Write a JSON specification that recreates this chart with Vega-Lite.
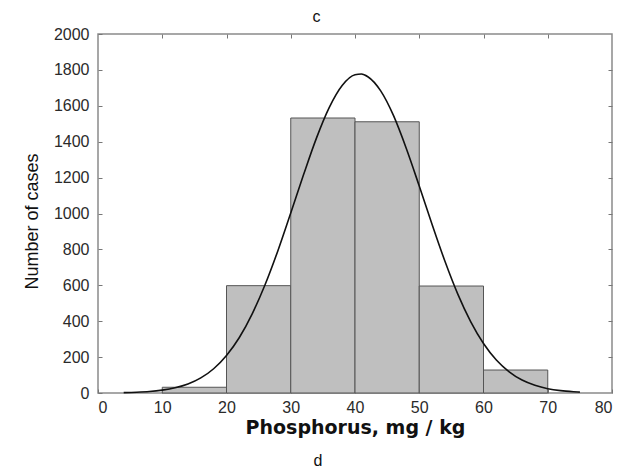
{
  "$schema": "https://vega.github.io/schema/vega-lite/v6.json",
  "width": 514,
  "height": 359,
  "autosize": {"type": "none"},
  "padding": {"left": 98, "top": 34, "right": 17, "bottom": 79},
  "background": "white",
  "title": {"text": "d", "orient": "bottom", "anchor": "middle", "frame": "bounds", "font": "Liberation Sans", "fontSize": 16, "fontWeight": "normal", "color": "#111", "offset": 16},
  "config": {
    "view": {"stroke": "#8a8a8a", "strokeWidth": 1.5},
    "axis": {"grid": false, "domain": false, "tickColor": "#777", "tickSize": -4, "labelFont": "Liberation Sans", "labelFontSize": 16, "labelColor": "#2a2a2a", "titleColor": "#111"}
  },
  "datasets": {
    "bars": [
      {"lo": 10, "hi": 20, "count": 32},
      {"lo": 20, "hi": 30, "count": 598},
      {"lo": 30, "hi": 40, "count": 1532},
      {"lo": 40, "hi": 50, "count": 1511},
      {"lo": 50, "hi": 60, "count": 596},
      {"lo": 60, "hi": 70, "count": 128}
    ],
    "curve": [
      {"p": 4, "n": 2}, {"p": 6, "n": 4}, {"p": 8, "n": 8}, {"p": 10, "n": 16}, {"p": 12, "n": 29},
      {"p": 14, "n": 50}, {"p": 16, "n": 84}, {"p": 18, "n": 135}, {"p": 20, "n": 209}, {"p": 22, "n": 309},
      {"p": 24, "n": 441}, {"p": 26, "n": 603}, {"p": 28, "n": 793}, {"p": 30, "n": 1003}, {"p": 32, "n": 1217},
      {"p": 34, "n": 1420}, {"p": 36, "n": 1591}, {"p": 38, "n": 1713}, {"p": 40, "n": 1773}, {"p": 41, "n": 1777},
      {"p": 42, "n": 1762}, {"p": 44, "n": 1683}, {"p": 46, "n": 1545}, {"p": 48, "n": 1361}, {"p": 50, "n": 1153},
      {"p": 52, "n": 939}, {"p": 54, "n": 734}, {"p": 56, "n": 551}, {"p": 58, "n": 398}, {"p": 60, "n": 276},
      {"p": 62, "n": 184}, {"p": 64, "n": 118}, {"p": 66, "n": 72}, {"p": 68, "n": 43}, {"p": 70, "n": 24},
      {"p": 72, "n": 13}, {"p": 74, "n": 7}, {"p": 75, "n": 5}
    ]
  },
  "layer": [
    {
      "data": {"name": "bars"},
      "mark": {"type": "bar", "fill": "#bfbfbf", "stroke": "#555", "strokeWidth": 1},
      "encoding": {
        "x": {"field": "lo", "type": "quantitative", "scale": {"domain": [0, 80], "nice": false},
          "axis": {"orient": "bottom", "values": [0, 10, 20, 30, 40, 50, 60, 70, 80], "format": "d", "labelPadding": 10, "title": "Phosphorus, mg / kg", "titleFont": "DejaVu Sans", "titleFontSize": 19, "titleFontWeight": "bold", "titlePadding": 3}},
        "x2": {"field": "hi"},
        "y": {"field": "count", "type": "quantitative", "scale": {"domain": [0, 2000], "nice": false},
          "axis": {"orient": "left", "values": [0, 200, 400, 600, 800, 1000, 1200, 1400, 1600, 1800, 2000], "format": "d", "labelPadding": 13, "title": "Number of cases", "titleFont": "Liberation Sans", "titleFontSize": 18, "titleFontWeight": "normal", "titlePadding": 12, "titleY": 187}},
        "y2": {"datum": 0}
      }
    },
    {
      "data": {"name": "curve"},
      "mark": {"type": "line", "color": "#111", "strokeWidth": 1.6, "interpolate": "monotone"},
      "encoding": {
        "x": {"field": "p", "type": "quantitative",
          "axis": {"orient": "top", "values": [10, 20, 30, 40, 50, 60, 70], "labels": false, "title": "c", "titleFont": "Liberation Sans", "titleFontSize": 16, "titleFontWeight": "normal", "titleX": 218, "titleY": -10}},
        "y": {"field": "n", "type": "quantitative",
          "axis": {"orient": "right", "values": [200, 400, 600, 800, 1000, 1200, 1400, 1600, 1800], "labels": false, "title": null}}
      }
    }
  ],
  "resolve": {"axis": {"x": "independent", "y": "independent"}}
}
